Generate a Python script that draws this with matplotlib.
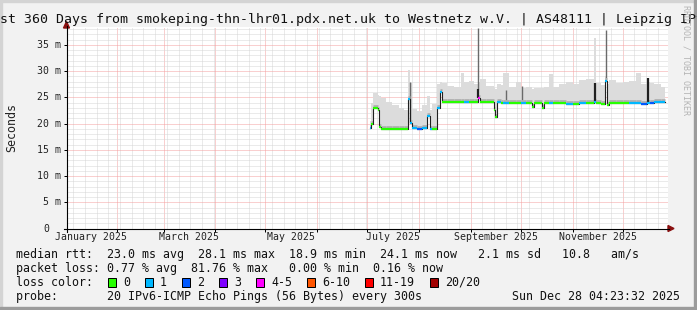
import matplotlib
matplotlib.use("Agg")
import matplotlib.pyplot as plt
import matplotlib.dates as mdates
import matplotlib.transforms as mtransforms
from matplotlib.lines import Line2D
from matplotlib.patches import Polygon, Rectangle
from matplotlib.ticker import MultipleLocator
import pandas as pd

plt.rcParams['font.family'] = ['DejaVu Sans Mono']

title = "Last 360 Days from smokeping-thn-lhr01.pdx.net.uk to Westnetz w.V. | AS48111 | Leipzig IPv6"
t_start = "2025-01-02 04:23:32"
t_end = "2025-12-28 04:23:32"

# median rtt as steps: start of each step, median (ms), loss bucket, top of smoke (ms)
step_start = [
    "2025-07-02 14:00", "2025-07-03 12:00", "2025-07-04 10:00", "2025-07-07 07:00",
    "2025-07-08 07:00", "2025-07-09 05:00", "2025-07-12 00:00", "2025-07-16 00:00",
    "2025-07-20 00:00", "2025-07-23 00:00", "2025-07-25 06:00", "2025-07-26 14:00",
    "2025-07-28 00:00", "2025-07-31 00:00", "2025-08-03 00:00", "2025-08-06 00:00",
    "2025-08-07 10:00", "2025-08-09 00:00", "2025-08-12 00:00", "2025-08-13 14:00",
    "2025-08-14 16:00", "2025-08-18 00:00", "2025-08-22 00:00", "2025-08-26 00:00",
    "2025-08-28 00:00", "2025-08-31 00:00", "2025-09-03 00:00", "2025-09-05 06:00",
    "2025-09-06 12:00", "2025-09-10 00:00", "2025-09-15 00:00", "2025-09-15 14:00",
    "2025-09-16 19:00", "2025-09-19 00:00", "2025-09-20 12:00", "2025-09-24 00:00",
    "2025-09-28 00:00", "2025-10-01 00:00", "2025-10-04 00:00", "2025-10-07 19:00",
    "2025-10-09 00:00", "2025-10-13 19:00", "2025-10-15 00:00", "2025-10-18 00:00",
    "2025-10-20 00:00", "2025-10-24 00:00", "2025-10-28 00:00", "2025-11-01 00:00",
    "2025-11-05 00:00", "2025-11-09 00:00", "2025-11-14 00:00", "2025-11-15 05:00",
    "2025-11-18 00:00", "2025-11-20 12:00", "2025-11-21 19:00", "2025-11-23 00:00",
    "2025-11-27 00:00", "2025-12-01 00:00", "2025-12-05 00:00", "2025-12-09 00:00",
    "2025-12-12 00:00", "2025-12-15 19:00", "2025-12-17 14:00", "2025-12-20 00:00",
    "2025-12-24 00:00",
]
data_end = "2025-12-26 14:00"
median_ms = [
    19.1, 20.0, 23.0, 22.6, 19.4, 19.0, 19.0, 19.0,
    19.0, 19.0, 24.7, 20.1, 19.2, 19.0, 19.1, 21.5,
    19.0, 19.0, 23.0, 26.1, 24.1, 24.1, 24.1, 24.1,
    24.1, 24.1, 24.2, 24.9, 24.1, 24.1, 22.6, 21.2,
    24.2, 24.0, 24.0, 23.9, 23.9, 23.9, 23.9, 23.1,
    23.9, 22.9, 23.9, 23.9, 23.9, 23.9, 23.8, 23.8,
    23.9, 23.9, 24.2, 23.9, 23.8, 28.2, 23.5, 23.9,
    23.9, 23.9, 23.9, 23.9, 23.8, 24.0, 24.0, 24.1,
    24.2,
]
loss_idx = [
    1, 0, 0, 0, 0, 0, 0, 0,
    0, 0, 1, 1, 1, 2, 1, 1,
    1, 0, 1, 1, 0, 0, 0, 0,
    1, 0, 0, 4, 0, 0, 0, 0,
    1, 0, 1, 0, 0, 1, 0, 0,
    0, 0, 0, 1, 0, 0, 1, 0,
    1, 0, 1, 0, 0, 1, 0, 0,
    0, 0, 1, 1, 2, 1, 2, 1,
    1,
]
smoke_top = [
    20.5, 24.0, 25.8, 25.4, 25.2, 24.8, 24.2, 23.6,
    23.0, 22.5, 30.3, 27.8, 22.8, 22.4, 23.6, 25.2,
    22.6, 23.8, 27.5, 28.0, 27.8, 27.2, 26.9, 29.6,
    28.0, 28.2, 27.5, 28.0, 28.4, 27.2, 26.8, 26.5,
    27.5, 27.3, 29.7, 27.0, 28.0, 26.8, 27.0, 26.5,
    26.8, 26.8, 27.0, 29.5, 27.0, 27.5, 28.0, 27.5,
    28.3, 28.4, 36.3, 27.8, 27.3, 29.0, 27.5, 28.3,
    27.8, 28.0, 28.2, 29.6, 27.5, 28.0, 27.8, 27.5,
    27.0,
]

# narrow smoke streaks
dark_dates = ["2025-09-05 12:00", "2025-11-14 12:00", "2025-12-16 12:00"]
dark_lo = [24.9, 24.2, 24.0]
dark_hi = [26.5, 27.7, 28.7]
gray_dates = ["2025-09-05 12:00", "2025-11-20 18:00", "2025-07-26 18:00",
              "2025-09-22 00:00", "2025-10-01 12:00"]
gray_lo = [26.5, 28.2, 20.1, 24.0, 24.0]
gray_hi = [38.3, 37.9, 28.0, 26.3, 27.1]

month_labels = ["January 2025", "March 2025", "May 2025", "July 2025",
                "September 2025", "November 2025"]
month_nums = [1, 3, 5, 7, 9, 11]

loss_names = ["0", "1", "2", "3", "4-5", "6-10", "11-19", "20/20"]
loss_colors = ["#26ff00", "#00b8ff", "#0059ff", "#7e00ff",
               "#ff00ff", "#ff5500", "#ff0000", "#a10000"]

row_rtt = "median rtt:  23.0 ms avg  28.1 ms max  18.9 ms min  24.1 ms now   2.1 ms sd   10.8   am/s"
row_loss = "packet loss: 0.77 % avg  81.76 % max   0.00 % min  0.16 % now"
row_probe = "probe:       20 IPv6-ICMP Echo Pings (56 Bytes) every 300s"
stamp = "Sun Dec 28 04:23:32 2025"

W, H = 697, 310


def fx(x):
    return x / W


def fy(y):
    return 1 - y / H


def num(ts):
    return mdates.date2num(pd.to_datetime(ts).to_pydatetime())


fig = plt.figure(figsize=(W / 100, H / 100), dpi=100)
fig.patch.set_facecolor("#f2f2f2")

ax = fig.add_axes([fx(67), fy(228.5), (668 - 67) / W, (228.5 - 27) / H])
ax.set_facecolor("white")
for s in ax.spines.values():
    s.set_visible(False)

xs = [num(t) for t in step_start] + [num(data_end)]
med_ext = median_ms + [median_ms[-1]]
top_ext = smoke_top + [smoke_top[-1]]

ax.set_xlim(num(t_start), num(t_end))
ax.set_ylim(0, 38.4)

ax.xaxis.set_major_locator(mdates.MonthLocator())
ax.xaxis.set_minor_locator(mdates.WeekdayLocator(byweekday=mdates.MO))
ax.yaxis.set_major_locator(MultipleLocator(5))
ax.yaxis.set_minor_locator(MultipleLocator(1))
ax.grid(which="major", color="#f4a0a0", linestyle=(0, (1, 1)), linewidth=0.72)
ax.grid(which="minor", color="#d6d6d6", linestyle=(0, (1, 1)), linewidth=0.72)
ax.set_axisbelow(True)
ax.tick_params(which="major", length=2.2, width=0.72, direction="out",
               labelbottom=False, labelleft=False)
ax.tick_params(which="minor", length=0)

# smoke
ax.fill_between(xs, med_ext, top_ext, step="post", color="#dcdcdc", lw=0, zorder=2)
ax.vlines([num(t) for t in gray_dates], gray_lo, gray_hi, color="#6a6a6a",
          lw=1.0, zorder=3)
shift_up = ax.transData + mtransforms.ScaledTranslation(0, 2 / 100, fig.dpi_scale_trans)
ax.hlines(median_ms, xs[:-1], xs[1:], color="#b0b0b0", lw=2.0, zorder=3,
          transform=shift_up)

# median line and loss-coloured band
ax.step(xs, med_ext, where="post", color="#202020", lw=0.8, zorder=4)
ax.vlines([num(t) for t in dark_dates], dark_lo, dark_hi, color="#202020",
          lw=1.6, zorder=4)
ax.hlines(median_ms, xs[:-1], xs[1:], colors=[loss_colors[i] for i in loss_idx],
          lw=1.6, zorder=5)

# axis labels
xlab_tr = mtransforms.offset_copy(ax.get_xaxis_transform(), fig=fig, y=-9 * 0.72,
                                  units="points")
for lab, m in zip(month_labels, month_nums):
    a = pd.Timestamp(2025, m, 1)
    b = a + pd.offsets.MonthBegin(1)
    mid = a + (b - a) / 2
    ax.text(num(mid), 0, lab, transform=xlab_tr, ha="center", va="center",
            fontsize=7.1, color="#222222")

for v in range(0, 36, 5):
    shift = -6 if v else -18
    tr = mtransforms.offset_copy(ax.get_yaxis_transform(), fig=fig, x=shift * 0.72,
                                 units="points")
    ax.text(0, v, f"{v} m" if v else "0", transform=tr, ha="right", va="center",
            fontsize=7.1, color="#222222")

fig.text(fx(11.5), fy(127.5), "Seconds", rotation=90, ha="center", va="center",
         fontsize=8.4, color="#222222")

# axes with arrows
fig.add_artist(Line2D([fx(63.5), fx(669)], [fy(228.5), fy(228.5)], color="black", lw=0.8))
fig.add_artist(Line2D([fx(66.5), fx(66.5)], [fy(231.5), fy(26)], color="black", lw=0.8))
fig.add_artist(Polygon([(fx(668), fy(225.5)), (fx(674), fy(228.5)), (fx(668), fy(231.5))],
                       closed=True, color="#8a1010", transform=fig.transFigure))
fig.add_artist(Polygon([(fx(63.5), fy(28)), (fx(66.5), fy(21.5)), (fx(69.5), fy(28))],
                       closed=True, color="#8a1010", transform=fig.transFigure))

# title (wider than the image, clipped on both sides)
fig.text(0.5, fy(19.5), title, ha="center", va="center", fontsize=9.57, color="#111111")
fig.text(fx(686), fy(5), "RRDTOOL / TOBI OETIKER", rotation=270, ha="center", va="top",
         fontsize=6, color="#b4b4b4")

# legend
fs = 8.4
fig.text(fx(16), fy(254.3), row_rtt, ha="left", va="center", fontsize=fs, color="#111111")
fig.text(fx(16), fy(268.3), row_loss, ha="left", va="center", fontsize=fs, color="#111111")
fig.text(fx(16), fy(282.3), "loss color:", ha="left", va="center", fontsize=fs, color="#111111")
bx = 108
for name, col in zip(loss_names, loss_colors):
    fig.add_artist(Rectangle((fx(bx), fy(286.8)), 8 / W, 9 / H, facecolor=col,
                             edgecolor="black", lw=0.72, transform=fig.transFigure))
    fig.text(fx(bx + 15), fy(282.3), name, ha="left", va="center", fontsize=fs,
             color="#111111")
    bx += 30 + 7 * len(name)
fig.text(fx(16), fy(296.7), row_probe, ha="left", va="center", fontsize=fs, color="#111111")
fig.text(fx(680.5), fy(296.7), stamp, ha="right", va="center", fontsize=fs, color="#111111")

# image frame
fig.add_artist(Rectangle((0, 0), fx(2), 1, color="#d4d4d4", transform=fig.transFigure))
fig.add_artist(Rectangle((0, fy(2)), 1, 2 / H, color="#d4d4d4", transform=fig.transFigure))
fig.add_artist(Rectangle((fx(694), 0), 3 / W, 1, color="#9c9c9c", transform=fig.transFigure))
fig.add_artist(Rectangle((0, 0), 1, 3 / H, color="#9c9c9c", transform=fig.transFigure))

fig.savefig("out.png", dpi=100, facecolor=fig.get_facecolor())
